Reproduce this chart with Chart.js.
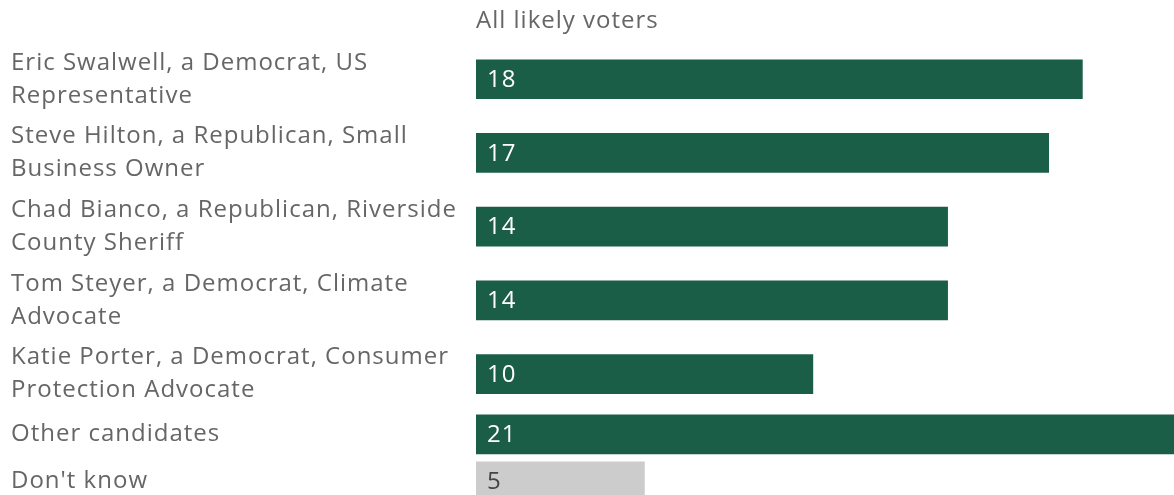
<!DOCTYPE html>
<html>
<head>
<meta charset="utf-8">
<script src="https://cdn.jsdelivr.net/npm/chart.js@4/dist/chart.umd.min.js"></script>
<style>
  body { margin: 0; background: #fff; }
  #contenedor { width: 1174px; height: 495px; position: relative; }
</style>
</head>
<body>
<div id="contenedor"><canvas id="grafica"></canvas></div>
<script>
const titulo = "All likely voters";
const candidatos = [
  ["Eric Swalwell, a Democrat, US", "Representative"],
  ["Steve Hilton, a Republican, Small", "Business Owner"],
  ["Chad Bianco, a Republican, Riverside", "County Sheriff"],
  ["Tom Steyer, a Democrat, Climate", "Advocate"],
  ["Katie Porter, a Democrat, Consumer", "Protection Advocate"],
  ["Other candidates"],
  ["Don't know"],
];
const votos = [18, 17, 14, 14, 10, 21, 5];
const colores = ["#1b5e47", "#1b5e47", "#1b5e47", "#1b5e47", "#1b5e47", "#1b5e47", "#cccccc"];
const coloresTexto = ["#fff", "#fff", "#fff", "#fff", "#fff", "#fff", "#444"];

// layout: each row grows with the number of label lines
const fuente = { family: "'Open Sans', sans-serif", size: 24 };
const espaciado = "1px";
const cabecera = 42.4;
const alturaBase = 20.3;
const alturaLinea = 26.7;
let acumulado = cabecera;
const centros = candidatos.map((lineas) => {
  const alto = alturaBase + alturaLinea * lineas.length;
  const centro = acumulado + alto / 2;
  acumulado += alto;
  return centro;
});

const etiquetas = {
  id: "etiquetas",
  beforeDraw(chart) {
    chart.ctx.letterSpacing = espaciado;
  },
  afterDatasetsDraw(chart) {
    const ctx = chart.ctx;
    const area = chart.chartArea;
    ctx.save();
    ctx.letterSpacing = espaciado;
    ctx.font = fuente.size + "px " + fuente.family;
    ctx.textBaseline = "middle";
    ctx.textAlign = "left";
    ctx.fillStyle = "#666";
    ctx.fillText(titulo, area.left, 21);
    chart.getDatasetMeta(0).data.forEach((barra, i) => {
      ctx.fillStyle = coloresTexto[i];
      ctx.fillText(votos[i], area.left + 11, barra.y + 1);
    });
    ctx.restore();
  },
};

const cxt = document.getElementById("grafica");
const myChart = new Chart(cxt, {
  type: "bar",
  data: {
    datasets: [
      {
        data: votos.map((v, i) => ({ x: v, y: centros[i] })),
        backgroundColor: colores,
        borderWidth: 0,
        barThickness: 39,
        clip: 0,
      },
    ],
  },
  options: {
    indexAxis: "y",
    responsive: true,
    maintainAspectRatio: false,
    animation: false,
    layout: { padding: { left: 11, right: 0, top: 0, bottom: 0 } },
    plugins: { legend: { display: false }, tooltip: { enabled: false } },
    scales: {
      x: { display: false, min: 0, max: 20.72 },
      y: {
        type: "linear",
        reverse: true,
        offset: false,
        min: 0,
        max: 495,
        grid: { display: false },
        border: { display: false },
        ticks: {
          font: { ...fuente, lineHeight: 1.375 },
          color: "#666",
          crossAlign: "far",
          autoSkip: false,
          callback: (v, i) => candidatos[i],
        },
        afterBuildTicks: (axis) => {
          axis.ticks = centros.map((c) => ({ value: c }));
        },
        afterFit: (axis) => {
          axis.width = 465;
          axis.paddingTop = 0;
          axis.paddingBottom = 0;
        },
      },
    },
  },
  plugins: [etiquetas],
});
</script>
</body>
</html>
